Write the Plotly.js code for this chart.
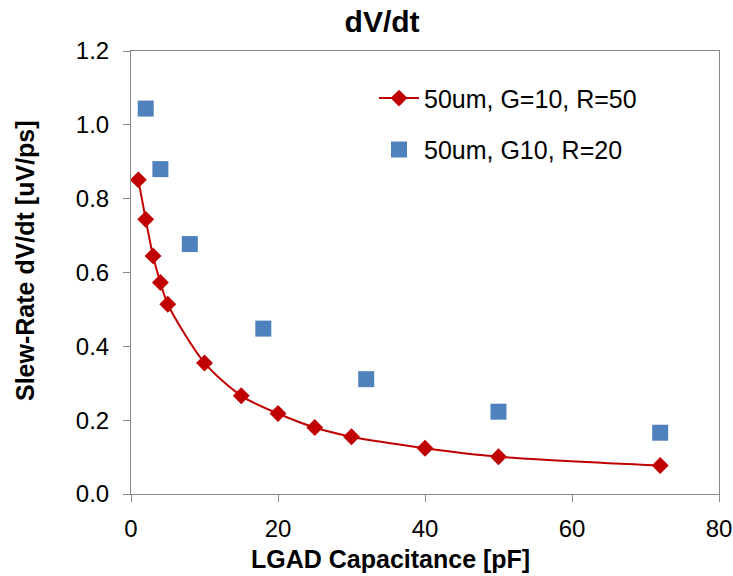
<!DOCTYPE html>
<html>
<head>
<meta charset="utf-8">
<script src="https://cdn.plot.ly/plotly-3.0.1.min.js"></script>
<style>
  html, body { margin: 0; padding: 0; background: #fff; }
  #chart { width: 733px; height: 576px; }
</style>
</head>
<body>
<div id="chart"></div>
<script>
// Slew rate vs. LGAD capacitance, two amplifier configurations
const capR50 = [1, 2, 3, 4, 5, 10, 15, 20, 25, 30, 40, 50, 72];
const slewR50 = [0.851, 0.744, 0.645, 0.573, 0.514, 0.355, 0.266, 0.218, 0.180, 0.155, 0.124, 0.101, 0.077];

const capR20 = [2, 4, 8, 18, 32, 50, 72];
const slewR20 = [1.044, 0.880, 0.677, 0.448, 0.311, 0.223, 0.166];

const nameR50 = '50um, G=10, R=50';
const nameR20 = '50um, G10, R=20';

const xTicks = [0, 20, 40, 60, 80];
const yTicks = [0.0, 0.2, 0.4, 0.6, 0.8, 1.0, 1.2];

const FONT = 'Liberation Sans, Arial, sans-serif';
const AXIS_GREY = '#898989';

const traces = [
  {
    x: capR50, y: slewR50, name: nameR50,
    type: 'scatter', mode: 'lines+markers',
    line: { color: '#C00000', width: 2, shape: 'spline', smoothing: 0.8 },
    marker: { symbol: 'diamond', size: 13, color: '#C00000' },
    legendgroup: 'a'
  },
  {
    x: capR20, y: slewR20, name: nameR20,
    type: 'scatter', mode: 'markers',
    marker: { symbol: 'square', size: 16, color: '#4F81BD' },
    legendgroup: 'b'
  }
];

const layout = {
  width: 733, height: 576,
  paper_bgcolor: '#fff', plot_bgcolor: '#fff',
  margin: { l: 131, r: 14, t: 51, b: 82 },
  font: { family: FONT, size: 24, color: '#000' },
  showlegend: true,
  title: {
    text: '<b>dV/dt</b>',
    font: { family: FONT, size: 30, color: '#000' },
    xref: 'paper', x: 0.427, xanchor: 'center',
    yref: 'container', y: 0.962, yanchor: 'middle'
  },
  xaxis: {
    range: [0, 80], tickvals: xTicks, ticktext: xTicks.map(String),
    showgrid: false, zeroline: false,
    showline: true, linecolor: AXIS_GREY, linewidth: 1, mirror: true,
    ticks: 'outside', ticklen: 7, tickcolor: AXIS_GREY, tickwidth: 1,
    ticklabelstandoff: 6,
    tickfont: { family: FONT, size: 24, color: '#000' }
  },
  yaxis: {
    range: [0, 1.2], tickvals: yTicks, ticktext: yTicks.map(v => v.toFixed(1)),
    showgrid: false, zeroline: false,
    showline: true, linecolor: AXIS_GREY, linewidth: 1, mirror: true,
    ticks: 'outside', ticklen: 7, tickcolor: AXIS_GREY, tickwidth: 1,
    ticklabelstandoff: 9,
    tickfont: { family: FONT, size: 24, color: '#000' }
  },
  legend: {
    x: (374 - 131) / 588, y: 0.945, xanchor: 'left', yanchor: 'top',
    bgcolor: 'rgba(0,0,0,0)', borderwidth: 0,
    font: { family: FONT, size: 25, color: '#000' },
    traceorder: 'grouped', tracegroupgap: 16,
    itemwidth: 40
  },
  annotations: [
    {
      text: '<b>LGAD Capacitance [pF]</b>',
      xref: 'paper', yref: 'paper',
      x: (390 - 131) / 588, y: -(559 - 494) / 443,
      xanchor: 'center', yanchor: 'middle', showarrow: false,
      font: { family: FONT, size: 25, color: '#000' }
    },
    {
      text: '<b>Slew-Rate dV/dt [uV/ps]</b>',
      xref: 'paper', yref: 'paper',
      x: -(131 - 25) / 588, y: (494 - 261) / 443,
      xanchor: 'center', yanchor: 'middle', showarrow: false, textangle: -90,
      font: { family: FONT, size: 25, color: '#000' }
    }
  ]
};

Plotly.newPlot('chart', traces, layout, { displayModeBar: false, staticPlot: true });
</script>
</body>
</html>
